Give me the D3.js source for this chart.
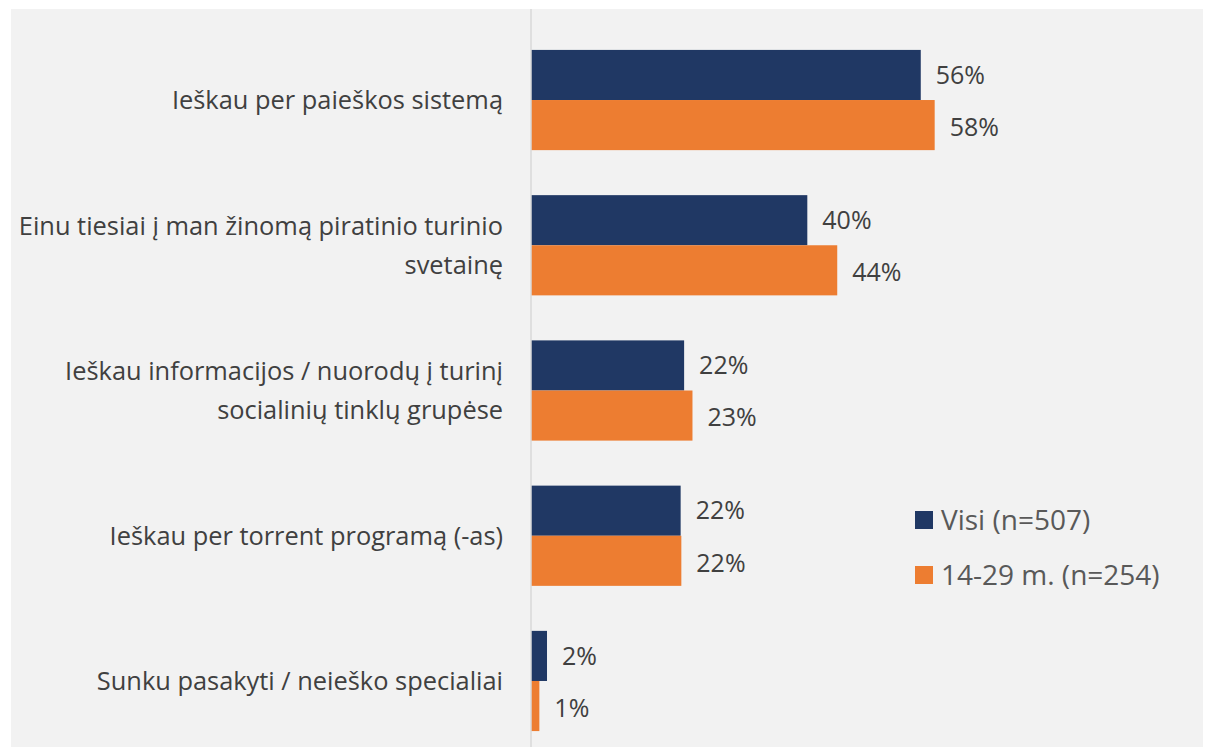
<!DOCTYPE html>
<html>
<head>
<meta charset="utf-8">
<script src="https://cdn.jsdelivr.net/npm/d3@7"></script>
<style>
  body { margin: 0; background: #fff; }
  svg { display: block; font-family: "Open Sans", sans-serif; }
</style>
</head>
<body>
<svg id="chart" width="1206" height="747"></svg>
<script>
// categories (lines of each label)
var categories = [
    ["Ieškau per paieškos sistemą"],
    ["Einu tiesiai į man žinomą piratinio turinio", "svetainę"],
    ["Ieškau informacijos / nuorodų į turinį", "socialinių tinklų grupėse"],
    ["Ieškau per torrent programą (-as)"],
    ["Sunku pasakyti / neieško specialiai"]
];
var seriesNames = ["Visi (n=507)", "14-29 m. (n=254)"];
var visiValues = [56, 39.7, 22, 21.5, 2.3];
var youngValues = [58, 44, 23.2, 21.6, 1.2];
var colors = ["#203864", "#ed7d31"];

var svg = d3.select("#chart");

// grey plot panel
svg.append("rect")
    .attr("x", 11).attr("y", 9)
    .attr("width", 1192).attr("height", 740)
    .attr("fill", "#f2f2f2");

var data = categories.map(function(c, i) {
    return { id: i, lines: c, values: [visiValues[i], youngValues[i]] };
});

var x = d3.scaleLinear().domain([0, 60]).range([531, 531 + 6.96 * 60]);
var y = d3.scaleBand()
    .domain(data.map(d => d.id))
    .range([27.4, 753.6])
    .paddingInner(0.31)
    .paddingOuter(0.155);
var ySub = d3.scaleBand().domain([0, 1]).range([0, y.bandwidth()]);

var g = svg.append("g");

// bars
data.forEach(function(d) {
    d.values.forEach(function(v, s) {
        g.append("rect")
            .attr("x", x(0))
            .attr("y", y(d.id) + ySub(s))
            .attr("width", x(v) - x(0))
            .attr("height", ySub.bandwidth())
            .attr("fill", colors[s]);
        g.append("text")
            .attr("x", x(v) + 15)
            .attr("y", y(d.id) + ySub(s) + ySub.bandwidth() / 2 + (s == 1 ? 2 : 0))
            .attr("dy", "0.35em")
            .attr("font-size", 25)
            .attr("fill", "#404040")
            .text(d3.format(".0f")(v) + "%");
    });
});

// vertical axis line
var yAxis = d3.axisLeft(y).tickSize(0).tickFormat("");
svg.append("g")
    .attr("transform", "translate(" + x(0) + ",0)")
    .call(yAxis)
    .call(a => a.select(".domain").attr("d", "M0,9V747").attr("stroke", "#d9d9d9").attr("stroke-width", 1.5));

// category labels
data.forEach(function(d) {
    var cy = y(d.id) + y.bandwidth() / 2;
    var lh = 39;
    var t = svg.append("text")
        .attr("text-anchor", "end")
        .attr("font-size", 25.4)
        .attr("fill", "#404040");
    d.lines.forEach(function(line, k) {
        t.append("tspan")
            .attr("x", 503)
            .attr("y", cy + (k - (d.lines.length - 1) / 2) * lh)
            .attr("dy", "0.35em")
            .text(line);
    });
});

// legend
var legend = svg.append("g").attr("transform", "translate(915,511)");
seriesNames.forEach(function(name, s) {
    var row = legend.append("g").attr("transform", "translate(0," + s * 55 + ")");
    row.append("rect").attr("width", 18).attr("height", 18).attr("fill", colors[s]);
    row.append("text")
        .attr("x", 26).attr("y", 9).attr("dy", "0.35em")
        .attr("font-size", 28)
        .attr("fill", "#595959")
        .text(name);
});
</script>
</body>
</html>
